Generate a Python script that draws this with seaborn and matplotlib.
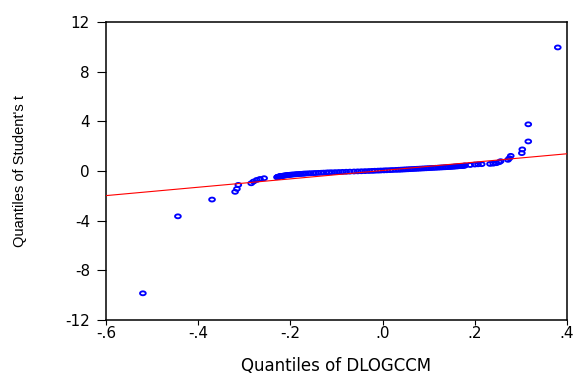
import numpy as np
import pandas as pd
import matplotlib
matplotlib.use("Agg")
import matplotlib.pyplot as plt
from matplotlib.path import Path
from matplotlib.ticker import FixedLocator, FixedFormatter
import seaborn as sns

# Sorted DLOGCCM observations against Student's t quantiles
tail_low_x = [-0.520, -0.444, -0.370, -0.320, -0.316, -0.313, -0.285, -0.280, -0.273, -0.266, -0.257]
tail_low_y = [-9.85, -3.65, -2.30, -1.68, -1.44, -1.12, -0.99, -0.85, -0.72, -0.64, -0.58]

body_x = [-0.229, -0.228, -0.227, -0.227, -0.226, -0.225, -0.224, -0.223, -0.222, -0.220,
          -0.219, -0.217, -0.216, -0.214, -0.212, -0.210, -0.208, -0.206, -0.204, -0.202,
          -0.200, -0.197, -0.194, -0.190, -0.187, -0.184, -0.180, -0.177, -0.173, -0.170,
          -0.166, -0.161, -0.156, -0.150, -0.145, -0.139, -0.133, -0.128, -0.122, -0.117,
          -0.111, -0.103, -0.095, -0.087, -0.079, -0.071, -0.062, -0.054, -0.046, -0.038,
          -0.030, -0.023, -0.017, -0.010, -0.004, 0.003, 0.009, 0.016, 0.022, 0.029,
          0.035, 0.040, 0.045, 0.050, 0.055, 0.060, 0.065, 0.070, 0.075, 0.080,
          0.085, 0.090, 0.095, 0.100, 0.105, 0.110, 0.115, 0.120, 0.125, 0.130,
          0.135, 0.139, 0.143, 0.147, 0.150, 0.154, 0.157, 0.161, 0.164, 0.168,
          0.171, 0.173, 0.175, 0.177]
body_y = [-0.50, -0.49, -0.48, -0.47, -0.46, -0.45, -0.44, -0.43, -0.42, -0.41,
          -0.40, -0.39, -0.38, -0.37, -0.36, -0.35, -0.34, -0.33, -0.32, -0.31,
          -0.30, -0.29, -0.28, -0.27, -0.26, -0.25, -0.24, -0.23, -0.22, -0.21,
          -0.20, -0.19, -0.18, -0.17, -0.16, -0.15, -0.14, -0.13, -0.12, -0.11,
          -0.10, -0.09, -0.08, -0.07, -0.06, -0.05, -0.04, -0.03, -0.02, -0.01,
          0.00, 0.01, 0.02, 0.03, 0.04, 0.05, 0.06, 0.07, 0.08, 0.09,
          0.10, 0.11, 0.12, 0.13, 0.14, 0.15, 0.16, 0.17, 0.18, 0.19,
          0.20, 0.21, 0.22, 0.23, 0.24, 0.25, 0.26, 0.27, 0.28, 0.29,
          0.30, 0.31, 0.32, 0.33, 0.34, 0.35, 0.36, 0.37, 0.38, 0.39,
          0.40, 0.41, 0.42, 0.43]

tail_high_x = [0.179, 0.190, 0.200, 0.207, 0.215, 0.233, 0.240, 0.247, 0.253, 0.256,
               0.272, 0.275, 0.278, 0.302, 0.303, 0.316, 0.316, 0.380]
tail_high_y = [0.44, 0.48, 0.52, 0.54, 0.55, 0.57, 0.59, 0.63, 0.71, 0.79,
               0.90, 1.03, 1.22, 1.44, 1.74, 2.38, 3.76, 9.95]

# Reference line through the quartiles
line_intercept = 0.04
line_slope = 3.37

x_ticks = [-0.6, -0.4, -0.2, 0.0, 0.2, 0.4]
x_tick_labels = ["-.6", "-.4", "-.2", ".0", ".2", ".4"]
y_ticks = [-12, -8, -4, 0, 4, 8, 12]
y_tick_labels = ["-12", "-8", "-4", "0", "4", "8", "12"]

df = pd.DataFrame({
    "DLOGCCM": tail_low_x + body_x + tail_high_x,
    "t": tail_low_y + body_y + tail_high_y,
})

sns.set_style("ticks")
plt.rcParams["font.family"] = ["Liberation Sans", "DejaVu Sans"]
plt.rcParams["text.color"] = "black"
plt.rcParams["axes.labelcolor"] = "black"

fig = plt.figure(figsize=(5.75, 3.76), dpi=100)
ax = fig.add_axes([106 / 575, 56 / 376, 461 / 575, 298 / 376])

# slightly flattened open circle marker
theta = np.linspace(0, 2 * np.pi, 48)
ring = Path(np.column_stack([np.cos(theta), 0.68 * np.sin(theta)]), closed=True)

sns.scatterplot(data=df, x="DLOGCCM", y="t", ax=ax, marker=ring, s=17,
                facecolor="none", edgecolor="#0000ff", linewidth=1.35,
                zorder=2, legend=False)
ax.axline((0, line_intercept), slope=line_slope, color="#ff0000", lw=0.8, zorder=3)

ax.set_xlim(-0.6, 0.4)
ax.set_ylim(-12, 12)
ax.xaxis.set_major_locator(FixedLocator(x_ticks))
ax.xaxis.set_major_formatter(FixedFormatter(x_tick_labels))
ax.yaxis.set_major_locator(FixedLocator(y_ticks))
ax.yaxis.set_major_formatter(FixedFormatter(y_tick_labels))

for sp in ax.spines.values():
    sp.set_color("black")
    sp.set_linewidth(1.1)
    sp.set_visible(True)

ax.tick_params(axis="y", direction="out", length=6.5, width=0.8, pad=5.0,
               colors="black", labelsize=11)
ax.tick_params(axis="x", direction="out", length=3.5, width=0.8, pad=0.8,
               colors="black", labelsize=11)
for lab in ax.get_xticklabels() + ax.get_yticklabels():
    lab.set_family(["DejaVu Sans"])

ax.set_xlabel("Quantiles of DLOGCCM", fontsize=12, family=["DejaVu Sans"], color="black")
ax.set_ylabel("Quantiles of Student's t", fontsize=10.5, color="black")
ax.xaxis.set_label_coords(0.5, -0.125)
ax.yaxis.set_label_coords(-0.172, 0.5)

fig.savefig("out.png", dpi=100)
